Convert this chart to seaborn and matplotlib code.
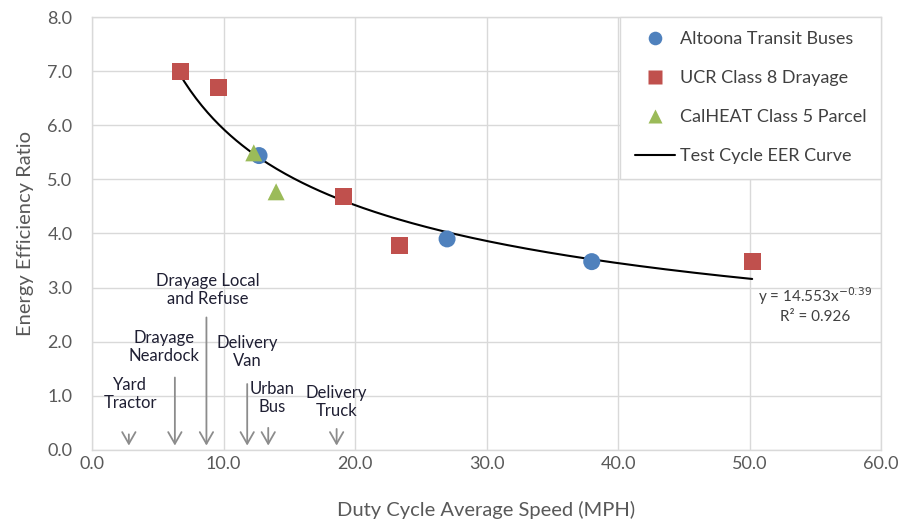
import numpy as np
import pandas as pd
import matplotlib
matplotlib.use("Agg")
import matplotlib.pyplot as plt
import seaborn as sns

# ------------------------------
# Data
# ------------------------------
altoona_x = [12.7, 27.0, 38.0]
altoona_y = [5.44, 3.90, 3.48]

ucr_x = [6.7, 9.6, 19.1, 23.4, 50.2]
ucr_y = [6.99, 6.69, 4.68, 3.77, 3.49]

calheat_x = [12.3, 14.0]
calheat_y = [5.49, 4.77]

# power trendline printed on the chart: y = a * x^b
fit_a = 14.553
fit_b = -0.39
fit_r2 = 0.926
fit_range = (6.6, 50.2)

# duty cycle annotations along the x axis
cycle_labels = ["Yard\nTractor", "Drayage\nNeardock", "Drayage Local\nand Refuse",
                "Delivery\nVan", "Urban\nBus", "Delivery\nTruck"]
cycle_speed = [2.8, 6.3, 8.7, 11.8, 13.4, 18.6]
arrow_top = [0.34, 1.39, 2.50, 1.27, 0.46, 0.44]
label_x = [2.9, 5.5, 8.8, 11.8, 13.7, 18.6]
label_y = [1.03, 1.90, 2.96, 1.81, 0.96, 0.89]

series_names = ["Altoona Transit Buses", "UCR Class 8 Drayage", "CalHEAT Class 5 Parcel"]

df = pd.DataFrame({
    "speed": altoona_x + ucr_x + calheat_x,
    "eer": altoona_y + ucr_y + calheat_y,
    "series": [series_names[0]] * len(altoona_x) + [series_names[1]] * len(ucr_x)
              + [series_names[2]] * len(calheat_x),
})

sns.set_theme(style="whitegrid")
plt.rcParams["font.family"] = ["Lato", "DejaVu Sans"]

fig = plt.figure(figsize=(9.04, 5.25), dpi=100)
ax = fig.add_axes([0.1018, 0.1429, 0.8728, 0.8247])

# trend curve
curve_x = np.linspace(fit_range[0], fit_range[1], 200)
curve_y = fit_a * curve_x ** fit_b
ax.plot(curve_x, curve_y, color="black", lw=1.5, label="Test Cycle EER Curve", zorder=2)

palette = {series_names[0]: "#4F81BD", series_names[1]: "#C0504D", series_names[2]: "#9BBB59"}
markers = {series_names[0]: "o", series_names[1]: "s", series_names[2]: "^"}
sns.scatterplot(data=df, x="speed", y="eer", hue="series", style="series",
                palette=palette, markers=markers, s=150, edgecolor="none",
                ax=ax, zorder=3)

# legend: markers first, then line
handles, labels = ax.get_legend_handles_labels()
order = [labels.index(n) for n in series_names] + [labels.index("Test Cycle EER Curve")]
leg = ax.legend([handles[i] for i in order], [labels[i] for i in order],
                loc="upper right", bbox_to_anchor=(1.0, 1.0), fontsize=13,
                labelspacing=1.27, borderpad=0.8, handlelength=2.2,
                handletextpad=0.3, borderaxespad=0.0,
                frameon=True, fancybox=False, edgecolor="#d9d9d9",
                framealpha=1.0, markerscale=0.8)
for t in leg.get_texts():
    t.set_color("#404040")

# arrows and labels for duty cycles
for lab, xs, top, lx, ly in zip(cycle_labels, cycle_speed, arrow_top, label_x, label_y):
    ax.annotate("", xy=(xs, 0.03), xytext=(xs, top),
                arrowprops=dict(arrowstyle="->,head_width=0.4,head_length=0.7",
                                color="#8c8c8c", lw=1.3))
    ax.text(lx, ly, lab, ha="center", va="center", fontsize=12,
            color="#1f1f33", linespacing=1.15)

# equation
ax.text(55.0, 2.68, "y = 14.553x$^{-0.39}$\nR² = %.3f" % fit_r2,
        ha="center", va="center", fontsize=11, color="#404040", linespacing=1.3)

ax.set_xlim(0, 60)
ax.set_ylim(0, 8)
ax.set_xticks(np.arange(0, 61, 10))
ax.set_yticks(np.arange(0, 8.1, 1))
ax.set_xticklabels([f"{v:.1f}" for v in np.arange(0, 61, 10)])
ax.set_yticklabels([f"{v:.1f}" for v in np.arange(0, 8.1, 1)])
ax.tick_params(axis="x", labelsize=13, colors="#595959", length=0, pad=4)
ax.tick_params(axis="y", labelsize=13, colors="#595959", length=0, pad=14)

ax.set_xlabel("Duty Cycle Average Speed (MPH)", fontsize=14.5, color="#595959", labelpad=21)
ax.set_ylabel("Energy Efficiency Ratio", fontsize=14.5, color="#595959", labelpad=10)

ax.grid(True, color="#d9d9d9", lw=1.0)
for sp in ax.spines.values():
    sp.set_color("#d9d9d9")
    sp.set_linewidth(1.0)
ax.set_facecolor("white")

fig.savefig("out.png", dpi=100, facecolor="white")
